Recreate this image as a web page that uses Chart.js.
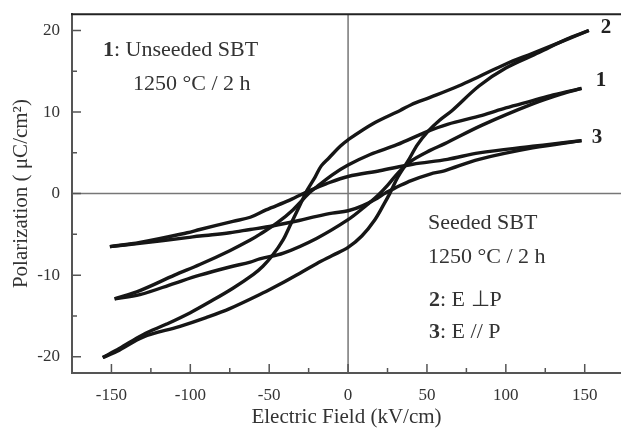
<!DOCTYPE html>
<html lang="en">
<head>
  <meta charset="UTF-8" />
  <title>SBT P-E Hysteresis Loops</title>
  <style>
    html, body { margin: 0; padding: 0; background: #fff; overflow: hidden; }
    #chart-container { width: 621px; height: 433px; }
  </style>
  <!-- Chart.js from CDN -->
  <script src="https://cdn.jsdelivr.net/npm/chart.js"></script>
</head>
<body>
  <div id="chart-container">
    <canvas id="loopChart" width="621" height="433"></canvas>
  </div>

  <script>
    // Tick labels shown on the axes
    const xTickLabels = [-150, -100, -50, 0, 50, 100, 150];
    const yTickLabels = [-20, -10, 0, 10, 20];

    // Loop 1: unseeded SBT, [E (kV/cm), P (uC/cm2)]
    const loop1Down = [
      [148, 12.9], [130, 12.1], [117, 11.4], [100, 10.5], [85, 9.6], [63, 8.5],
      [50, 7.6], [31, 6.0], [14, 4.8], [0, 3.5], [-10, 2.3], [-20, 0.8],
      [-25, 0.0], [-35, -2.0], [-45, -3.6], [-56, -5.0], [-62, -5.7], [-75, -7.0],
      [-94, -8.7], [-110, -10.0], [-132, -11.9], [-148, -12.9]
    ];
    const loop1Up = [
      [-148, -12.9], [-132, -12.4], [-110, -11.0], [-94, -10.0], [-75, -9.0],
      [-62, -8.4], [-56, -8.0], [-41, -7.3], [-20, -5.5], [0, -3.2], [10, -1.7],
      [19, -0.2], [25, 1.0], [32, 2.6], [40, 4.0], [52, 5.3], [61, 6.1],
      [85, 8.4], [117, 11.0], [135, 12.2], [148, 12.9]
    ];

    // Loop 2: seeded SBT, E perpendicular to P
    const loop2Down = [
      [152.6, 20.0], [135, 18.6], [117, 17.2], [100, 15.9], [83.5, 14.4], [70, 13.2],
      [52, 11.8], [40, 10.9], [33, 10.2], [16, 8.6], [0, 6.6], [-5, 5.8],
      [-12, 4.4], [-17, 3.4], [-21, 2.0], [-26, 0.4], [-29, -0.8], [-33, -2.4],
      [-37, -4.0], [-41, -5.6], [-48, -7.6], [-54, -8.9], [-60, -9.9], [-73, -11.6],
      [-87, -13.2], [-100, -14.6], [-115, -16.0], [-130, -17.3], [-145, -19.0],
      [-155.5, -20.1]
    ];
    const loop2Up = [
      [-155.5, -20.1], [-145, -19.2], [-130, -17.6], [-107, -16.3], [-90, -15.2],
      [-75, -14.1], [-52, -12.0], [-43, -11.1], [-30, -9.7], [-20, -8.6], [-10, -7.6],
      [0, -6.6], [8.7, -5.2], [17, -3.2], [23, -1.2], [26.4, 0.0], [31.5, 2.0],
      [38, 4.0], [44, 6.0], [50.5, 7.6], [58, 9.0], [66, 10.2], [83, 13.2],
      [100, 15.4], [121, 17.3], [138, 18.9], [152.6, 20.0]
    ];

    // Loop 3: seeded SBT, E parallel to P
    const loop3Down = [
      [148, 6.5], [130, 6.1], [117, 5.8], [83, 5.0], [63, 4.2], [41, 3.6],
      [20, 2.8], [0, 2.1], [-14, 1.2], [-24, 0.4], [-37, -0.8], [-52, -2.0],
      [-62, -2.9], [-73, -3.4], [-94, -4.4], [-102, -4.8], [-132, -6.0], [-151, -6.5]
    ];
    const loop3Up = [
      [-151, -6.5], [-132, -6.1], [-102, -5.4], [-94, -5.2], [-75, -4.8],
      [-62, -4.4], [-52, -4.1], [-41, -3.7], [-31, -3.3], [-20, -2.8], [-10, -2.4],
      [0, -2.1], [9, -1.5], [19, -0.5], [23, 0.0], [28, 0.5], [31, 0.8],
      [40, 1.6], [52, 2.4], [61, 2.8], [83, 4.2], [117, 5.6], [148, 6.5]
    ];

    const branches = [loop1Down, loop1Up, loop2Down, loop2Up, loop3Down, loop3Up];

    const serif = '"Liberation Serif", "Times New Roman", serif';
    const textColor = '#333';

    // Draw text made of regular / bold pieces
    function drawParts(ctx, x, y, parts, size) {
      parts.forEach(([text, bold]) => {
        ctx.font = (bold ? 'bold ' : '') + size + 'px ' + serif;
        ctx.fillText(text, x, y);
        x += ctx.measureText(text).width;
      });
    }

    // Zero lines, top border, inward ticks and the text labels
    const framePlugin = {
      id: 'frame',
      beforeDatasetsDraw(chart) {
        const { ctx, chartArea: a, scales: { x, y } } = chart;
        ctx.save();
        const x0 = x.getPixelForValue(0);
        const y0 = y.getPixelForValue(0);
        ctx.strokeStyle = '#777';
        ctx.lineWidth = 1.5;
        ctx.beginPath();
        ctx.moveTo(x0, a.top); ctx.lineTo(x0, a.bottom);
        ctx.moveTo(a.left, y0); ctx.lineTo(a.right, y0);
        ctx.stroke();

        ctx.strokeStyle = '#222';
        ctx.lineWidth = 2;
        ctx.beginPath();
        ctx.moveTo(a.left - 1, a.top); ctx.lineTo(a.right, a.top);
        ctx.stroke();

        ctx.strokeStyle = '#555';
        ctx.lineWidth = 1.5;
        ctx.beginPath();
        x.ticks.forEach(t => {
          const px = x.getPixelForValue(t.value);
          if (px <= a.left + 2 || px >= a.right - 1) return;
          const len = xTickLabels.includes(t.value) ? 9 : 5;
          ctx.moveTo(px, a.bottom); ctx.lineTo(px, a.bottom - len);
        });
        y.ticks.forEach(t => {
          const py = y.getPixelForValue(t.value);
          if (py <= a.top + 2 || py >= a.bottom - 2) return;
          const len = yTickLabels.includes(t.value) ? 9 : 5;
          ctx.moveTo(a.left, py); ctx.lineTo(a.left + len, py);
        });
        ctx.stroke();
        ctx.restore();
      },
      afterDraw(chart) {
        const ctx = chart.ctx;
        ctx.save();
        ctx.fillStyle = textColor;
        ctx.textBaseline = 'alphabetic';
        ctx.textAlign = 'left';
        drawParts(ctx, 103, 56, [['1', true], [': Unseeded SBT', false]], 22);
        drawParts(ctx, 133, 90, [['1250 °C / 2 h', false]], 22);
        drawParts(ctx, 428, 229, [['Seeded SBT', false]], 22);
        drawParts(ctx, 428, 263, [['1250 °C / 2 h', false]], 22);
        drawParts(ctx, 429, 306, [['2', true], [': E \u22A5P', false]], 22);
        drawParts(ctx, 429, 338, [['3', true], [': E // P', false]], 22);

        ctx.fillStyle = '#222';
        ctx.textAlign = 'center';
        ctx.textBaseline = 'middle';
        ctx.font = 'bold 21px ' + serif;
        ctx.fillText('2', 606, 28);
        ctx.fillText('1', 601, 81);
        ctx.fillText('3', 597, 138);
        ctx.restore();
      }
    };

    const ctx = document.getElementById('loopChart').getContext('2d');
    const loopChart = new Chart(ctx, {
      type: 'scatter',
      data: {
        datasets: branches.map(b => ({
          data: b.map(([e, p]) => ({ x: e, y: p })),
          showLine: true,
          borderColor: '#161616',
          borderWidth: 3.4,
          pointRadius: 0,
          tension: 0.35,
          fill: false
        }))
      },
      options: {
        responsive: false,
        animation: false,
        layout: { padding: { top: 7, right: 0, left: 0, bottom: 0 } },
        plugins: {
          legend: { display: false },
          tooltip: { enabled: false }
        },
        scales: {
          x: {
            type: 'linear',
            min: -175,
            max: 173,
            afterBuildTicks: s => { s.ticks = s.ticks.filter(t => t.value % 25 === 0); },
            afterFit: s => { s.height = 60; },
            grid: { display: false },
            border: { display: true, color: '#555', width: 2 },
            ticks: {
              stepSize: 25,
              includeBounds: false,
              autoSkip: false,
              maxRotation: 0,
              padding: 4,
              color: textColor,
              font: { family: serif, size: 17 },
              callback: v => xTickLabels.includes(v) ? String(v) : ''
            },
            title: {
              display: true,
              text: 'Electric Field (kV/cm)',
              color: textColor,
              font: { family: serif, size: 21 },
              padding: { top: 0, bottom: 3 }
            }
          },
          y: {
            type: 'linear',
            min: -22,
            max: 22,
            afterBuildTicks: s => { s.ticks = s.ticks.filter(t => t.value % 5 === 0); },
            afterFit: s => { s.width = 72; },
            grid: { display: false },
            border: { display: true, color: '#555', width: 2 },
            ticks: {
              stepSize: 5,
              includeBounds: false,
              autoSkip: false,
              padding: 4,
              color: textColor,
              font: { family: serif, size: 17 },
              callback: v => yTickLabels.includes(v) ? String(v) : ''
            },
            title: {
              display: true,
              text: 'Polarization ( \u03BCC/cm\u00B2)',
              color: textColor,
              font: { family: serif, size: 21 },
              padding: { top: 9, bottom: 0 }
            }
          }
        }
      },
      plugins: [framePlugin]
    });
  </script>
</body>
</html>
